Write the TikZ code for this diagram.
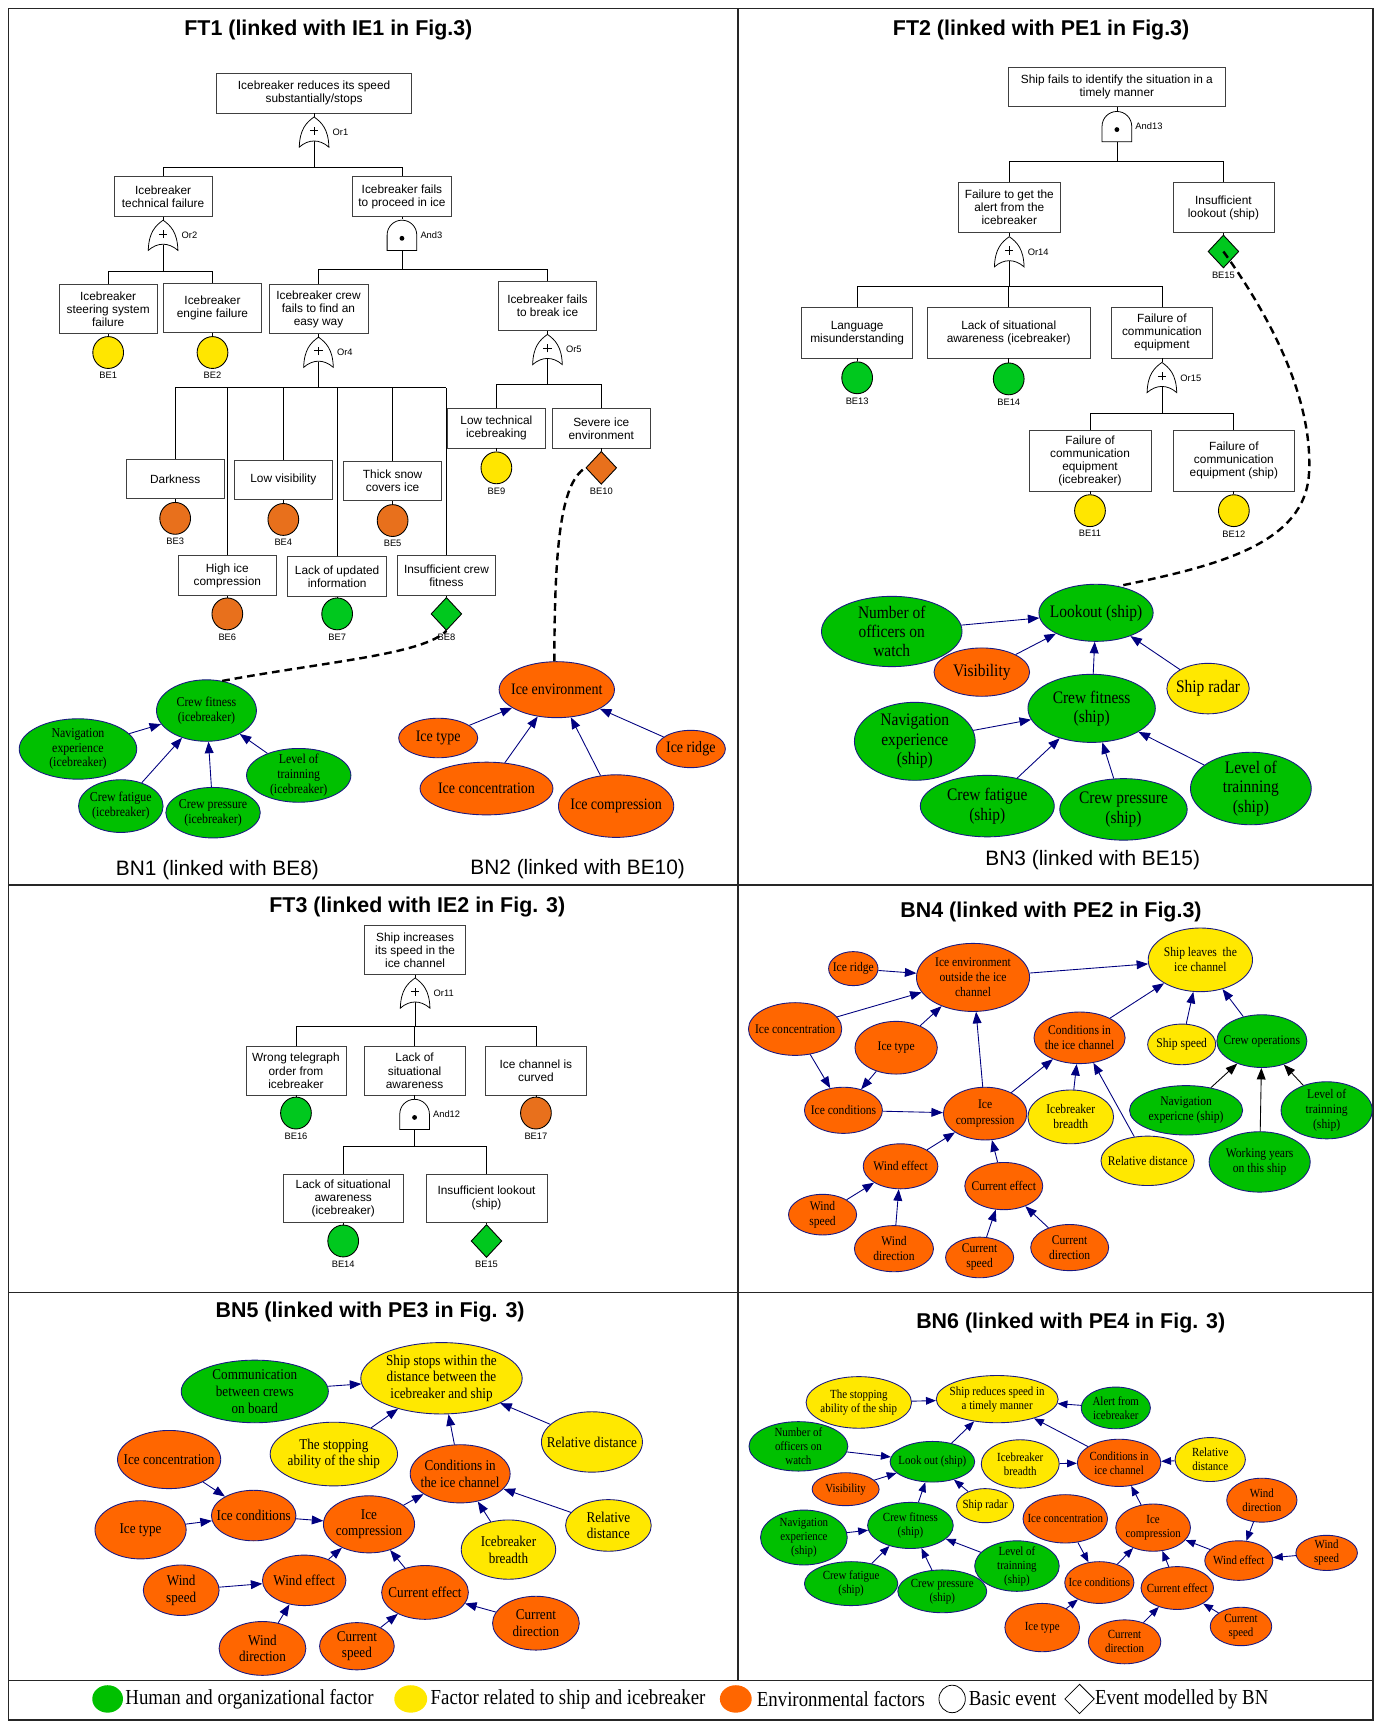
\documentclass[tikz,border=0pt]{standalone}
\usepackage{fontspec}
\setmainfont{Liberation Serif}
\newfontfamily\ftfont{Liberation Sans}
\newfontfamily\bnfont[FakeStretch=0.88]{Liberation Serif}
\usetikzlibrary{shapes.geometric,arrows.meta}
\definecolor{bngreen}{RGB}{0,192,0}
\definecolor{bnyellow}{RGB}{255,232,0}
\definecolor{bnorange}{RGB}{255,102,0}
\definecolor{ftgreen}{RGB}{0,200,30}
\definecolor{ftyellow}{RGB}{255,230,0}
\definecolor{ftorange}{RGB}{232,112,28}
\definecolor{bnborder}{RGB}{25,25,130}
\definecolor{arrowblue}{RGB}{0,0,128}
\tikzset{
 frame/.style={draw=black!85, line width=1.3pt},
 ftbox/.style={draw=black!75, line width=0.7pt, fill=white, align=center, inner sep=1pt, font=\ftfont\fontsize{10.8}{11.9}\selectfont},
 sz/.style 2 args={minimum width=#1pt, minimum height=#2pt},
 ftline/.style={draw=black, line width=0.7pt},
 gnode/.style={inner sep=0pt, minimum width=27pt, minimum height=28pt},
 glabel/.style={font=\ftfont\fontsize{8.5}{9}\selectfont, inner sep=1pt},
 belab/.style={font=\ftfont\fontsize{8.5}{9}\selectfont, inner sep=1pt},
 becirc/.style={ellipse, draw=black, line width=0.8pt, minimum width=28pt, minimum height=29pt, inner sep=0pt},
 bediam/.style={diamond, draw=black, line width=0.8pt, minimum width=28pt, minimum height=30pt, inner sep=0pt},
 title/.style={font=\ftfont\bfseries\fontsize{19.5}{22}\selectfont, inner sep=0pt},
 bnlabel/.style={font=\ftfont\fontsize{19}{21}\selectfont, inner sep=0pt},
 linkdash/.style={draw=black, line width=2.2pt, dash pattern=on 7pt off 4.5pt},
 bn/.style={ellipse, draw=bnborder, line width=0.8pt, inner xsep=-40pt, inner ysep=-20pt, align=center},
 nG/.style={bn, fill=bngreen},
 nY/.style={bn, fill=bnyellow},
 nO/.style={bn, fill=bnorange},
 fbnA/.style={font=\bnfont\fontsize{12.3}{13.6}\selectfont},
 fbnB/.style={font=\bnfont\fontsize{14.5}{16}\selectfont},
 fbnC/.style={font=\bnfont\fontsize{16}{17.6}\selectfont},
 fbnD/.style={font=\bnfont\fontsize{12}{13.7}\selectfont},
 fbnE/.style={font=\bnfont\fontsize{13.6}{15.2}\selectfont},
 fbnF/.style={font=\bnfont\fontsize{11.3}{12.8}\selectfont},
 arr/.style={draw=arrowblue, line width=0.8pt, -{Triangle[length=10.5pt,width=8pt]}},
 arrs/.style={draw=arrowblue, line width=0.8pt, -{Triangle[length=9pt,width=7pt]}},
 arrk/.style={draw=black, line width=0.8pt, -{Triangle[length=10.5pt,width=8pt]}},
 legtext/.style={font=\bnfont\fontsize{19.5}{20}\selectfont, inner sep=0pt, anchor=west},
 orgatepic/.pic={
   \draw[line width=0.7pt, fill=white] (-13.5pt,-13.5pt) .. controls (-13pt,3pt) and (-7pt,9pt) .. (0pt,14pt)
     .. controls (7pt,9pt) and (13pt,3pt) .. (13.5pt,-13.5pt) .. controls (5pt,-6pt) and (-5pt,-6pt) .. cycle;
   \draw[line width=0.7pt] (-3.8pt,1.5pt) -- (3.8pt,1.5pt) (0pt,-2.3pt) -- (0pt,5.3pt);
 },
 andgatepic/.pic={
   \draw[line width=0.7pt, fill=white] (-13.5pt,-14pt) -- (-13.5pt,0pt) .. controls (-13.5pt,7.5pt) and (-7.5pt,13.5pt) .. (0pt,13.5pt)
     .. controls (7.5pt,13.5pt) and (13.5pt,7.5pt) .. (13.5pt,0pt) -- (13.5pt,-14pt) -- cycle;
   \fill (0pt,-3pt) circle[radius=2.2pt];
 },
}
\begin{document}
\begin{tikzpicture}[x=1pt,y=-1pt,label distance=2pt]
\useasboundingbox (0,0) rectangle (1252,1568);
\fill[white] (0,0) rectangle (1252,1568);

% ---------------- frame ----------------
\draw[frame] (8,8) rectangle (1250,1566);
\draw[frame] (672,8) -- (672,1530);
\draw[frame] (8,806) -- (1250,806);
\draw[frame] (8,1177) -- (1250,1177);
\draw[frame] (8,1530) -- (1250,1530);

% ---------------- titles ----------------
\node[title] (t1) at (299,27) {FT1 (linked with IE1 in Fig.3)};
\node[title] (t2) at (948,27) {FT2 (linked with PE1 in Fig.3)};
\node[title] (t3) at (380,826) {FT3 (linked with IE2 in Fig. 3)};
\node[title] (t4) at (957,830) {BN4 (linked with PE2 in Fig.3)};
\node[title] (t5) at (337,1195) {BN5 (linked with PE3 in Fig. 3)};
\node[title] (t6) at (975,1205) {BN6 (linked with PE4 in Fig. 3)};

% ================= FT1 =================
\node[ftbox,sz={178}{36}] (top1) at (286,85) {Icebreaker reduces its speed\\substantially/stops};
\node[gnode,label={[glabel]east:Or1}] (or1) at (286,120.5) {};
\node[ftbox,sz={89}{36}] (tech) at (148.5,179) {Icebreaker\\technical failure};
\node[ftbox,sz={90}{36}] (proceed) at (366,179) {Icebreaker fails\\to proceed in ice};
\node[gnode,label={[glabel]east:Or2}] (or2) at (148.5,214.5) {};
\node[gnode,label={[glabel]east:And3}] (and3) at (366,214) {};
\node[ftbox,sz={89}{45}] (steer) at (98.5,281.5) {Icebreaker\\steering system\\failure};
\node[ftbox,sz={89}{45}] (engine) at (193.5,280.5) {Icebreaker\\engine failure};
\node[ftbox,sz={90}{45}] (crewfail) at (290,281.5) {Icebreaker crew\\fails to find an\\easy way};
\node[ftbox,sz={89}{45}] (breakice) at (498.5,278.5) {Icebreaker fails\\to break ice};
\node[gnode,label={[glabel]east:Or4}] (or4) at (290,321) {};
\node[gnode,label={[glabel]east:Or5}] (or5) at (498.5,318.5) {};
\node[becirc,fill=ftyellow,label={[belab]below:BE1}] (be1) at (98.5,321) {};
\node[becirc,fill=ftyellow,label={[belab]below:BE2}] (be2) at (193.5,321) {};
\node[ftbox,sz={89}{36}] (dark) at (159.5,436) {Darkness};
\node[ftbox,sz={90}{36}] (lowvis) at (258,437) {Low visibility};
\node[ftbox,sz={89}{36}] (snow) at (357.5,438) {Thick snow\\covers ice};
\node[ftbox,sz={90}{36}] (highice) at (207,524) {High ice\\compression};
\node[ftbox,sz={90}{36}] (lackinfo) at (307,525) {Lack of updated\\information};
\node[ftbox,sz={89}{36}] (crewfit) at (406.5,524) {Insufficient crew\\fitness};
\node[ftbox,sz={90}{36}] (lowtech) at (452,390) {Low technical\\icebreaking};
\node[ftbox,sz={89}{36}] (severe) at (547.5,390) {Severe ice\\environment};
\node[becirc,fill=ftorange,label={[belab]below:BE3}] (be3) at (159.5,472) {};
\node[becirc,fill=ftorange,label={[belab]below:BE4}] (be4) at (258,473) {};
\node[becirc,fill=ftorange,label={[belab]below:BE5}] (be5) at (357.5,474) {};
\node[becirc,fill=ftorange,label={[belab]below:BE6}] (be6) at (207,559) {};
\node[becirc,fill=ftgreen,label={[belab]below:BE7}] (be7) at (307,559) {};
\node[bediam,fill=ftgreen,label={[belab]below:BE8}] (be8) at (406.5,559) {};
\node[becirc,fill=ftyellow,label={[belab]below:BE9}] (be9) at (452,426) {};
\node[bediam,fill=ftorange,label={[belab]below:BE10}] (be10) at (547.5,426) {};

\coordinate (busA) at (0,152);
\coordinate (busB) at (0,247);
\coordinate (busC) at (0,245);
\coordinate (busD) at (0,353);
\coordinate (busE) at (0,350);
\draw[ftline] (top1.south) -- (or1.north);
\draw[ftline] ([yshift=6pt]or1.south) -- (or1.south |- busA);
\draw[ftline] (tech.north) |- (proceed.north |- busA) -- (proceed.north);
\draw[ftline] (tech.south) -- (or2.north);
\draw[ftline] ([yshift=6pt]or2.south) -- (or2.south |- busB);
\draw[ftline] (steer.north) |- (engine.north |- busB) -- (engine.north);
\draw[ftline] (proceed.south) -- (and3.north);
\draw[ftline] (and3.south) -- (and3.south |- busC);
\draw[ftline] (crewfail.north) |- (breakice.north |- busC) -- (breakice.north);
\draw[ftline] (steer.south) -- (be1.north);
\draw[ftline] (engine.south) -- (be2.north);
\draw[ftline] (crewfail.south) -- (or4.north);
\draw[ftline] ([yshift=6pt]or4.south) -- (or4.south |- busD);
\draw[ftline] (dark.north |- busD) -- (crewfit.north |- busD);
\foreach \c in {dark,highice,lowvis,lackinfo,snow,crewfit} \draw[ftline] (\c.north) -- (\c.north |- busD);
\draw[ftline] (breakice.south) -- (or5.north);
\draw[ftline] ([yshift=6pt]or5.south) -- (or5.south |- busE);
\draw[ftline] (lowtech.north) |- (severe.north |- busE) -- (severe.north);
\draw[ftline] (dark.south) -- (be3.north);
\draw[ftline] (lowvis.south) -- (be4.north);
\draw[ftline] (snow.south) -- (be5.north);
\draw[ftline] (highice.south) -- (be6.north);
\draw[ftline] (lackinfo.south) -- (be7.north);
\draw[ftline] (crewfit.south) -- (be8.north);
\draw[ftline] (lowtech.south) -- (be9.north);
\draw[ftline] (severe.south) -- (be10.north);
\pic at (or1) {orgatepic};
\pic at (or2) {orgatepic};
\pic at (and3) {andgatepic};
\pic at (or4) {orgatepic};
\pic at (or5) {orgatepic};

% ---------------- BN1 ----------------
\node[nG,fbnA,sz={91}{56}] (b1cf) at (188,647) {Crew fitness\\(icebreaker)};
\node[nG,fbnA,sz={107}{55}] (b1nav) at (71,682) {Navigation\\experience\\(icebreaker)};
\node[nG,fbnA,sz={77}{48}] (b1fat) at (110,734) {Crew fatigue\\(icebreaker)};
\node[nG,fbnA,sz={86}{46}] (b1pre) at (194,740) {Crew pressure\\(icebreaker)};
\node[nG,fbnA,sz={95}{49}] (b1lev) at (272,706) {Level of\\trainning\\(icebreaker)};
\foreach \a in {b1nav,b1fat,b1pre,b1lev} \draw[arr] (\a) -- (b1cf);
\node[bnlabel] (bn1lab) at (198,792) {BN1 (linked with BE8)};

% ---------------- BN2 ----------------
\node[nO,fbnB,sz={105}{51}] (b2env) at (507,628) {Ice environment};
\node[nO,fbnB,sz={72}{36}] (b2type) at (399,672) {Ice type};
\node[nO,fbnB,sz={121}{48}] (b2conc) at (443,718) {Ice concentration};
\node[nO,fbnB,sz={105}{57}] (b2comp) at (561,734) {Ice compression};
\node[nO,fbnB,sz={63}{34}] (b2ridge) at (629,682) {Ice ridge};
\foreach \a in {b2type,b2conc,b2comp,b2ridge} \draw[arr] (\a) -- (b2env);
\node[bnlabel] (bn2lab) at (526,791) {BN2 (linked with BE10)};

\draw[linkdash] (b1cf.62) .. controls (300,602) and (385,596) .. (be8.south);
\draw[linkdash] (b2env.95) .. controls (505,500) and (510,440) .. (be10.west);

% ================= FT2 =================
\node[ftbox,sz={198}{36}] (top2) at (1017,79) {Ship fails to identify the situation in a\\timely manner};
\node[gnode,label={[glabel]east:And13}] (and13) at (1017,115) {};
\node[ftbox,sz={93}{46}] (alert) at (919,189) {Failure to get the\\alert from the\\icebreaker};
\node[ftbox,sz={92}{46}] (lookbox) at (1114,189) {Insufficient\\lookout (ship)};
\node[gnode,label={[glabel]east:Or14}] (or14) at (919,229.5) {};
\node[bediam,fill=ftgreen,label={[belab]below:BE15}] (be15) at (1114,229) {};
\node[ftbox,sz={101}{46}] (lang) at (780.5,303) {Language\\misunderstanding};
\node[ftbox,sz={149}{46}] (lacksa) at (918.5,303) {Lack of situational\\awareness (icebreaker)};
\node[ftbox,sz={92}{46}] (commeq) at (1058,303) {Failure of\\communication\\equipment};
\node[becirc,fill=ftgreen,label={[belab]below:BE13}] (be13) at (780.5,344) {};
\node[becirc,fill=ftgreen,label={[belab]below:BE14}] (be14) at (918.5,345) {};
\node[gnode,label={[glabel]east:Or15}] (or15) at (1058,344) {};
\node[ftbox,sz={111}{55}] (commib) at (992.5,419.5) {Failure of\\communication\\equipment\\(icebreaker)};
\node[ftbox,sz={111}{55}] (commship) at (1123.5,419.5) {Failure of\\communication\\equipment (ship)};
\node[becirc,fill=ftyellow,label={[belab]below:BE11}] (be11) at (992.5,465) {};
\node[becirc,fill=ftyellow,label={[belab]below:BE12}] (be12) at (1123.5,465) {};

\coordinate (busF) at (0,147);
\coordinate (busG) at (0,261);
\coordinate (busH) at (0,376);
\draw[ftline] (top2.south) -- (and13.north);
\draw[ftline] (and13.south) -- (and13.south |- busF);
\draw[ftline] (alert.north) |- (lookbox.north |- busF) -- (lookbox.north);
\draw[ftline] (alert.south) -- (or14.north);
\draw[ftline] (lookbox.south) -- (be15.north);
\draw[ftline] ([yshift=6pt]or14.south) -- (or14.south |- busG);
\draw[ftline] (lang.north) |- (commeq.north |- busG) -- (commeq.north);
\draw[ftline] (lacksa.north) -- (lacksa.north |- busG);
\draw[ftline] (lang.south) -- (be13.north);
\draw[ftline] (lacksa.south) -- (be14.north);
\draw[ftline] (commeq.south) -- (or15.north);
\draw[ftline] ([yshift=6pt]or15.south) -- (or15.south |- busH);
\draw[ftline] (commib.north) |- (commship.north |- busH) -- (commship.north);
\draw[ftline] (commib.south) -- (be11.north);
\draw[ftline] (commship.south) -- (be12.north);
\pic at (and13) {andgatepic};
\pic at (or14) {orgatepic};
\pic at (or15) {orgatepic};

% ---------------- BN3 ----------------
\node[nG,fbnC,sz={104}{52}] (look) at (998,558) {Lookout (ship)};
\node[nG,fbnC,sz={128}{64}] (numoff) at (812,575) {Number of\\officers on\\watch};
\node[nO,fbnC,sz={87}{44}] (vis) at (894,612) {Visibility};
\node[nY,fbnC,sz={75}{46}] (radar) at (1100,627) {Ship radar};
\node[nG,fbnC,sz={116}{62}] (cfit) at (994,645) {Crew fitness\\(ship)};
\node[nG,fbnC,sz={110}{71}] (nav) at (833,675) {Navigation\\experience\\(ship)};
\node[nG,fbnC,sz={122}{56}] (fat) at (899,734) {Crew fatigue\\(ship)};
\node[nG,fbnC,sz={116}{56}] (pre) at (1023,737) {Crew pressure\\(ship)};
\node[nG,fbnC,sz={110}{66}] (lev) at (1139,718) {Level of\\trainning\\(ship)};
\foreach \a in {numoff,vis,cfit,radar} \draw[arr] (\a) -- (look);
\foreach \a in {nav,fat,pre,lev} \draw[arr] (\a) -- (cfit);
\node[bnlabel] (bn3lab) at (995,783) {BN3 (linked with BE15)};
\draw[linkdash] (be15.center) .. controls (1165,300) and (1195,370) .. (1192,430) .. controls (1189,495) and (1110,515) .. (look.50);

% ================= FT3 =================
\node[ftbox,sz={92}{44}] (top3) at (378,865) {Ship increases\\its speed in the\\ice channel};
\node[gnode,label={[glabel]east:Or11}] (or11) at (378,904.5) {};
\node[ftbox,sz={91}{44}] (wrong) at (269.5,975) {Wrong telegraph\\order from\\icebreaker};
\node[ftbox,sz={92}{44}] (lacksa3) at (377.5,975) {Lack of\\situational\\awareness};
\node[ftbox,sz={92}{44}] (curved) at (488,975) {Ice channel is\\curved};
\node[gnode,label={[glabel]east:And12}] (and12) at (377.5,1014.5) {};
\node[becirc,fill=ftgreen,label={[belab]below:BE16}] (be16) at (269.5,1013.5) {};
\node[becirc,fill=ftorange,label={[belab]below:BE17}] (be17) at (488,1013.5) {};
\node[ftbox,sz={109}{44}] (lacksaib) at (312.5,1091) {Lack of situational\\awareness\\(icebreaker)};
\node[ftbox,sz={110}{44}] (inslook) at (443,1091) {Insufficient lookout\\(ship)};
\node[becirc,fill=ftgreen,label={[belab]below:BE14}] (be14b) at (312.5,1130) {};
\node[bediam,fill=ftgreen,label={[belab]below:BE15}] (be15b) at (443,1130) {};
\coordinate (busI) at (0,935);
\coordinate (busJ) at (0,1044);
\draw[ftline] (top3.south) -- (or11.north);
\draw[ftline] ([yshift=6pt]or11.south) -- (or11.south |- busI);
\draw[ftline] (wrong.north) |- (curved.north |- busI) -- (curved.north);
\draw[ftline] (lacksa3.north) -- (lacksa3.north |- busI);
\draw[ftline] (wrong.south) -- (be16.north);
\draw[ftline] (curved.south) -- (be17.north);
\draw[ftline] (lacksa3.south) -- (and12.north);
\draw[ftline] (and12.south) -- (and12.south |- busJ);
\draw[ftline] (lacksaib.north) |- (inslook.north |- busJ) -- (inslook.north);
\draw[ftline] (lacksaib.south) -- (be14b.north);
\draw[ftline] (inslook.south) -- (be15b.north);
\pic at (or11) {orgatepic};
\pic at (and12) {andgatepic};

% ================= BN4 =================
\node[nO,fbnD,sz={45}{31}] (b4ridge) at (777,882) {Ice ridge};
\node[nO,fbnD,sz={103}{62}] (b4env) at (886,890) {Ice environment\\outside the ice\\channel};
\node[nY,fbnD,sz={95}{58}] (b4leave) at (1093,874) {Ship leaves~ the\\ice channel};
\node[nO,fbnD,sz={85}{48}] (b4conc) at (724,937) {Ice concentration};
\node[nO,fbnD,sz={75}{48}] (b4type) at (816,954) {Ice type};
\node[nO,fbnD,sz={83}{47}] (b4cond) at (983,945) {Conditions in\\the ice channel};
\node[nY,fbnD,sz={62}{37}] (b4speed) at (1076,951) {Ship speed};
\node[nG,fbnD,sz={82}{48}] (b4crew) at (1149,948) {Crew operations};
\node[nO,fbnD,sz={71}{42}] (b4icond) at (768,1011) {Ice conditions};
\node[nO,fbnD,sz={76}{48}] (b4comp) at (897,1014) {Ice\\compression};
\node[nY,fbnD,sz={78}{49}] (b4breadth) at (975,1017) {Icebreaker\\breadth};
\node[nG,fbnD,sz={103}{45}] (b4nav) at (1080,1011) {Navigation\\expericne (ship)};
\node[nG,fbnD,sz={83}{52}] (b4lev) at (1208,1011) {Level of\\trainning\\(ship)};
\node[nY,fbnD,sz={85}{45}] (b4rel) at (1045,1057) {Relative distance};
\node[nG,fbnD,sz={92}{55}] (b4work) at (1147,1058) {Working years\\on this ship};
\node[nO,fbnD,sz={68}{41}] (b4wind) at (820,1062) {Wind effect};
\node[nO,fbnD,sz={71}{43}] (b4cur) at (914,1080) {Current effect};
\node[nO,fbnD,sz={62}{37}] (b4ws) at (749,1106) {Wind\\speed};
\node[nO,fbnD,sz={72}{42}] (b4wd) at (814,1137) {Wind\\direction};
\node[nO,fbnD,sz={62}{37}] (b4cs) at (892,1145) {Current\\speed};
\node[nO,fbnD,sz={71}{42}] (b4cd) at (974,1136) {Current\\direction};
\foreach \a/\b in {b4ridge/b4env, b4conc/b4env, b4type/b4env, b4conc/b4icond, b4type/b4icond,
  b4icond/b4comp, b4comp/b4env, b4comp/b4cond, b4breadth/b4cond, b4rel/b4cond, b4cond/b4leave,
  b4env/b4leave, b4speed/b4leave, b4crew/b4leave, b4wind/b4comp, b4ws/b4wind, b4wd/b4wind,
  b4cur/b4comp, b4cs/b4cur, b4cd/b4cur} \draw[arr] (\a) -- (\b);
\foreach \a in {b4nav,b4work,b4lev} \draw[arrk] (\a) -- (b4crew);

% ================= BN5 =================
\node[nY,fbnE,sz={147}{65}] (b5stop) at (402,1255) {Ship stops within the\\distance between the\\icebreaker and ship};
\node[nG,fbnE,sz={134}{57}] (b5comm) at (232,1267) {Communication\\between crews\\on board};
\node[nY,fbnE,sz={116}{58}] (b5abil) at (304,1324) {The stopping\\ability of the ship};
\node[nY,fbnE,sz={92}{55}] (b5rel1) at (539,1313) {Relative distance};
\node[nO,fbnE,sz={94}{53}] (b5conc) at (154,1329) {Ice concentration};
\node[nO,fbnE,sz={91}{53}] (b5cond) at (419,1342) {Conditions in\\the ice channel};
\node[nO,fbnE,sz={83}{53}] (b5type) at (128,1393) {Ice type};
\node[nO,fbnE,sz={77}{46}] (b5icond) at (231,1380) {Ice conditions};
\node[nO,fbnE,sz={83}{52}] (b5comp) at (336,1388) {Ice\\compression};
\node[nY,fbnE,sz={86}{54}] (b5breadth) at (463,1411) {Icebreaker\\breadth};
\node[nY,fbnE,sz={78}{47}] (b5rel2) at (554,1389) {Relative\\distance};
\node[nO,fbnE,sz={69}{46}] (b5ws) at (165,1448) {Wind\\speed};
\node[nO,fbnE,sz={76}{46}] (b5wind) at (277,1439) {Wind effect};
\node[nO,fbnE,sz={79}{49}] (b5cur) at (387,1450) {Current effect};
\node[nO,fbnE,sz={79}{49}] (b5cd) at (488,1478) {Current\\direction};
\node[nO,fbnE,sz={79}{49}] (b5wd) at (239,1501) {Wind\\direction};
\node[nO,fbnE,sz={68}{43}] (b5cs) at (325,1499) {Current\\speed};
\foreach \a/\b in {b5comm/b5stop, b5abil/b5stop, b5cond/b5stop, b5rel1/b5stop, b5conc/b5icond,
  b5type/b5icond, b5icond/b5comp, b5comp/b5cond, b5breadth/b5cond, b5rel2/b5cond, b5ws/b5wind,
  b5wd/b5wind, b5wind/b5comp, b5cur/b5comp, b5cs/b5cur, b5cd/b5cur} \draw[arr] (\a) -- (\b);

% ================= BN6 =================
\node[nY,fbnF,sz={96}{47}] (b6abil) at (782,1277) {The stopping\\ability of the ship};
\node[nY,fbnF,sz={111}{43}] (b6red) at (908,1274) {Ship reduces speed in\\a timely manner};
\node[nG,fbnF,sz={63}{38}] (b6alert) at (1016,1282) {Alert from\\icebreaker};
\node[nG,fbnF,sz={90}{45}] (b6num) at (727,1317) {Number of\\officers on\\watch};
\node[nG,fbnF,sz={77}{37}] (b6look) at (849,1331) {Look out (ship)};
\node[nY,fbnF,sz={71}{44}] (b6breadth) at (929,1333) {Icebreaker\\breadth};
\node[nO,fbnF,sz={76}{43}] (b6cond) at (1019,1332) {Conditions in\\ice channel};
\node[nY,fbnF,sz={64}{40}] (b6rel) at (1102,1329) {Relative\\distance};
\node[nO,fbnF,sz={61}{30}] (b6vis) at (770,1356) {Visibility};
\node[nY,fbnF,sz={52}{31}] (b6radar) at (897,1371) {Ship radar};
\node[nO,fbnF,sz={64}{40}] (b6wd) at (1149,1366) {Wind\\direction};
\node[nO,fbnF,sz={77}{44}] (b6conc) at (970,1383) {Ice concentration};
\node[nG,fbnF,sz={78}{42}] (b6cfit) at (829,1389) {Crew fitness\\(ship)};
\node[nG,fbnF,sz={79}{50}] (b6nav) at (732,1400) {Navigation\\experience\\(ship)};
\node[nO,fbnF,sz={68}{43}] (b6comp) at (1050,1391) {Ice\\compression};
\node[nO,fbnF,sz={56}{32}] (b6ws) at (1208,1414) {Wind\\speed};
\node[nO,fbnF,sz={62}{36}] (b6wind) at (1128,1421) {Wind effect};
\node[nG,fbnF,sz={77}{46}] (b6lev) at (926,1426) {Level of\\trainning\\(ship)};
\node[nG,fbnF,sz={85}{40}] (b6fat) at (775,1442) {Crew fatigue\\(ship)};
\node[nG,fbnF,sz={81}{39}] (b6pre) at (858,1449) {Crew pressure\\(ship)};
\node[nO,fbnF,sz={63}{38}] (b6icond) at (1001,1441) {Ice conditions};
\node[nO,fbnF,sz={66}{39}] (b6cur) at (1072,1446) {Current effect};
\node[nO,fbnF,sz={68}{44}] (b6type) at (949,1482) {Ice type};
\node[nO,fbnF,sz={56}{35}] (b6cs) at (1130,1481) {Current\\speed};
\node[nO,fbnF,sz={66}{40}] (b6cd) at (1024,1495) {Current\\direction};
\foreach \a/\b in {b6abil/b6red, b6alert/b6red, b6look/b6red, b6cond/b6red, b6num/b6look,
  b6vis/b6look, b6radar/b6look, b6cfit/b6look, b6nav/b6cfit, b6fat/b6cfit, b6pre/b6cfit,
  b6lev/b6cfit, b6breadth/b6cond, b6rel/b6cond, b6comp/b6cond, b6conc/b6icond, b6type/b6icond,
  b6icond/b6comp, b6cur/b6comp, b6wind/b6comp, b6wd/b6wind, b6ws/b6wind, b6cd/b6cur,
  b6cs/b6cur} \draw[arrs] (\a) -- (\b);

% ================= legend =================
\node[ellipse, fill=bngreen, sz={28}{25}, inner sep=0pt] (lg1) at (98,1547) {};
\node[legtext] (lt1) at (114,1547) {Human and organizational factor};
\node[ellipse, fill=bnyellow, sz={30}{25}, inner sep=0pt] (lg2) at (374,1547) {};
\node[legtext] (lt2) at (392,1547) {Factor related to ship and icebreaker};
\node[ellipse, fill=bnorange, sz={29}{25}, inner sep=0pt] (lg3) at (670,1547) {};
\node[legtext] (lt3) at (689,1547) {Environmental factors};
\node[ellipse, draw=black, line width=0.7pt, sz={24}{25}, inner sep=0pt] (lg4) at (867,1547) {};
\node[legtext] (lt4) at (882,1547) {Basic event};
\node[diamond, draw=black, line width=0.7pt, sz={27}{27}, inner sep=0pt] (lg5) at (983,1547) {};
\node[legtext] (lt5) at (997,1547) {Event modelled by BN};
\end{tikzpicture}
\end{document}
